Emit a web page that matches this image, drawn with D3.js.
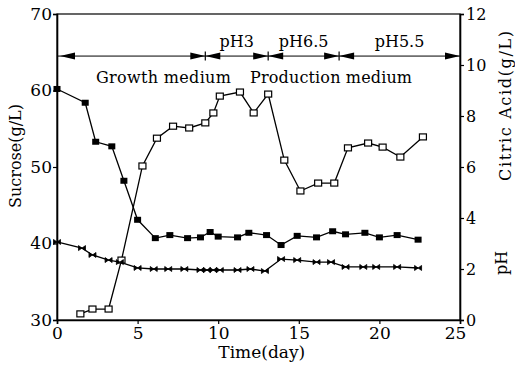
<!DOCTYPE html>
<html>
<head>
<meta charset="utf-8">
<script src="https://cdn.jsdelivr.net/npm/d3@7"></script>
<style>
  body { margin: 0; background: #fff; }
  svg { display: block; }
  text { font-family: "DejaVu Serif", "Liberation Serif", serif; fill: #000; }
</style>
</head>
<body>
<svg id="chart" width="515" height="368"></svg>
<script>
// Sucrose (g/L), left axis
const sucroseDays = [0, 1.75, 2.4, 3.4, 4.15, 5.0, 6.1, 7.0, 8.1, 8.9, 9.5, 10.0, 11.2, 11.9, 13.0, 13.9, 14.9, 16.1, 17.1, 17.9, 19.1, 20.0, 21.1, 22.4];
const sucrose     = [60.2, 58.4, 53.3, 52.7, 48.2, 43.1, 40.7, 41.1, 40.7, 40.8, 41.5, 40.9, 40.8, 41.4, 41.1, 39.8, 41.0, 40.8, 41.6, 41.2, 41.4, 40.8, 41.1, 40.5];

// Citric acid (g/L), right axis
const citricDays = [1.45, 2.2, 3.2, 4.0, 5.3, 6.2, 7.2, 8.2, 9.2, 9.7, 10.1, 11.35, 12.2, 13.1, 14.1, 15.1, 16.2, 17.2, 18.05, 19.3, 20.2, 21.3, 22.7];
const citric     = [0.24, 0.43, 0.43, 2.35, 6.04, 7.13, 7.6, 7.53, 7.73, 8.12, 8.78, 8.94, 8.12, 8.86, 6.27, 5.06, 5.37, 5.37, 6.75, 6.94, 6.78, 6.39, 7.18];

// pH, right axis
const phDays = [0, 1.55, 2.2, 3.2, 3.9, 5.0, 6.0, 6.9, 7.9, 8.9, 9.3, 9.7, 10.1, 11.2, 12.0, 12.9, 13.9, 14.9, 16.1, 17.0, 17.9, 19.0, 19.8, 21.1, 22.4];
const ph     = [3.06, 2.82, 2.55, 2.35, 2.27, 2.04, 2.0, 2.0, 2.0, 1.96, 1.96, 1.96, 1.96, 1.96, 2.0, 1.92, 2.39, 2.35, 2.27, 2.27, 2.08, 2.08, 2.08, 2.08, 2.04];

// Axis ticks
const dayTicks = [0, 5, 10, 15, 20, 25];
const sucroseTicks = [30, 40, 50, 60, 70];
const rightTicks = [0, 2, 4, 6, 8, 10, 12];

// Culture phases along the top arrow row
const phaseBounds = [0, 9.2, 13.1, 17.5, 25];
const phaseLabels = ["", "pH3", "pH6.5", "pH5.5"];
const mediumLabels = ["Growth medium", "Production medium"];
const mediumDays = [6.6, 17.0];
const arrowLevel = 64.5; // on the sucrose scale

const svg = d3.select("#chart");
const X0 = 57, X1 = 460, Y0 = 320, Y1 = 14;

const x = d3.scaleLinear().domain([0, 25]).range([X0, X1]);
const yL = d3.scaleLinear().domain([30, 70]).range([Y0, Y1]);
const yR = d3.scaleLinear().domain([0, 12]).range([Y0, Y1]);

// frame
svg.append("rect")
  .attr("x", X0).attr("y", Y1).attr("width", X1 - X0).attr("height", Y0 - Y1)
  .attr("fill", "none").attr("stroke", "#000").attr("stroke-width", 1.2);

function styleAxis(g, size) {
  g.select(".domain").attr("stroke", "#000").attr("stroke-width", 1.6);
  g.selectAll(".tick line").attr("stroke", "#000").attr("stroke-width", 1.2);
  g.selectAll(".tick text").style("font-size", size + "px")
    .style("font-family", '"DejaVu Serif", serif').attr("fill", "#000");
}

const gx = svg.append("g").attr("transform", `translate(0,${Y0})`)
  .call(d3.axisBottom(x).tickValues(dayTicks).tickSize(4).tickPadding(3).tickFormat(d3.format("d")));
styleAxis(gx, 17);
// the last day label sits just left of its tick, clear of the right axis "0"
gx.selectAll(".tick text").filter(d => d === 25).attr("dx", -5);

const gl = svg.append("g").attr("transform", `translate(${X0},0)`)
  .call(d3.axisLeft(yL).tickValues(sucroseTicks).tickSize(4).tickPadding(1).tickFormat(d3.format("d")));
styleAxis(gl, 17);

const gr = svg.append("g").attr("transform", `translate(${X1},0)`)
  .call(d3.axisRight(yR).tickValues(rightTicks).tickSize(4).tickPadding(2).tickFormat(d3.format("d")));
styleAxis(gr, 16);

// axis titles
svg.append("text")
  .attr("transform", `translate(21,156) rotate(-90)`)
  .attr("text-anchor", "middle").style("font-size", "16px")
  .text("Sucrose(g/L)");
svg.append("text")
  .attr("transform", `translate(511,106) rotate(-90)`)
  .attr("text-anchor", "middle").style("font-size", "16px")
  .attr("textLength", 150).attr("lengthAdjust", "spacing")
  .text("Citric Acid(g/L)");
svg.append("text")
  .attr("transform", `translate(507,263) rotate(-90)`)
  .attr("text-anchor", "middle").style("font-size", "16px")
  .text("pH");
svg.append("text")
  .attr("x", x(12.7)).attr("y", 358)
  .attr("text-anchor", "middle").style("font-size", "17px")
  .text("Time(day)");

// phase arrows
const ay = yL(arrowLevel);
const arrows = svg.append("g");
arrows.append("line")
  .attr("x1", x(0)).attr("x2", x(25)).attr("y1", ay).attr("y2", ay)
  .attr("stroke", "#000").attr("stroke-width", 1);

function head(tipX, dir) {
  const len = 15, hw = 3.5;
  arrows.append("path")
    .attr("d", `M${tipX},${ay} L${tipX - dir * len},${ay - hw} L${tipX - dir * len},${ay + hw} Z`)
    .attr("fill", "#000");
}
head(x(phaseBounds[0]) + 3, -1);
head(x(phaseBounds[phaseBounds.length - 1]), 1);
phaseBounds.slice(1, -1).forEach(b => {
  head(x(b), 1);
  head(x(b), -1);
  arrows.append("line")
    .attr("x1", x(b)).attr("x2", x(b)).attr("y1", ay - 4.5).attr("y2", ay + 4.5)
    .attr("stroke", "#000").attr("stroke-width", 1.2);
});

phaseLabels.forEach((t, i) => {
  if (!t) return;
  const mid = (phaseBounds[i] + phaseBounds[i + 1]) / 2;
  svg.append("text")
    .attr("x", x(mid)).attr("y", ay - 9)
    .attr("text-anchor", "middle").style("font-size", "16px")
    .text(t);
});

const mediumWidths = [135, 162];
mediumLabels.forEach((t, i) => {
  svg.append("text")
    .attr("x", x(mediumDays[i]) - mediumWidths[i] / 2).attr("y", ay + 27)
    .style("font-size", "16px")
    .attr("textLength", mediumWidths[i]).attr("lengthAdjust", "spacing")
    .text(t);
});

// series lines
function drawLine(days, vals, yScale) {
  const pts = days.map((d, i) => [x(d), yScale(vals[i])]);
  svg.append("path")
    .attr("d", d3.line()(pts))
    .attr("fill", "none").attr("stroke", "#000").attr("stroke-width", 1.3);
  return pts;
}

const sPts = drawLine(sucroseDays, sucrose, yL);
const cPts = drawLine(citricDays, citric, yR);
const pPts = drawLine(phDays, ph, yR);

// markers
svg.append("g").selectAll("rect").data(sPts).join("rect")
  .attr("x", d => d[0] - 3.5).attr("y", d => d[1] - 3)
  .attr("width", 7).attr("height", 6).attr("fill", "#000");

svg.append("g").selectAll("rect").data(cPts).join("rect")
  .attr("x", d => d[0] - 3.5).attr("y", d => d[1] - 3)
  .attr("width", 7).attr("height", 6)
  .attr("fill", "#fff").attr("stroke", "#000").attr("stroke-width", 1.2);

svg.append("g").selectAll("path").data(pPts).join("path")
  .attr("transform", d => `translate(${d[0]},${d[1]})`)
  .attr("d", "M-3.5,-2.5 L3.5,2.5 L3.5,-2.5 L-3.5,2.5 Z")
  .attr("fill", "#000").attr("stroke", "#000").attr("stroke-width", 0.8);
</script>
</body>
</html>
